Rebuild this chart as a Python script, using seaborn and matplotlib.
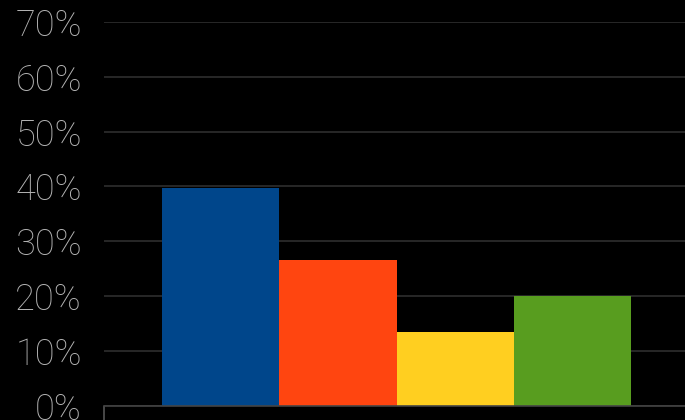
import matplotlib
matplotlib.use("Agg")
import matplotlib.pyplot as plt
import seaborn as sns
import pandas as pd

categories = ["A", "B", "C", "D"]
values = [39.7, 26.5, 13.4, 20.0]
colors = ["#00468b", "#ff4510", "#ffcf20", "#589d1f"]
ytick_values = [0, 10, 20, 30, 40, 50, 60, 70]
ytick_labels = ["0%", "10%", "20%", "30%", "40%", "50%", "60%", "70%"]

df = pd.DataFrame({"category": categories, "value": values})

sns.set_theme(style="dark")
plt.rcParams["font.family"] = ["Roboto", "DejaVu Sans"]

fig = plt.figure(figsize=(6.85, 4.2), dpi=100, facecolor="black")
ax = fig.add_axes([103.5 / 685, 14.3 / 420, (689.6 - 103.5) / 685, (405.7 - 22) / 420])
ax.set_facecolor("black")

sns.barplot(data=df, x="category", y="value", hue="category",
            palette=dict(zip(categories, colors)), width=1.0,
            saturation=1.0, legend=False, ax=ax, zorder=3,
            linewidth=0, edgecolor="none")

ax.set_xlim(-1, 4)
ax.set_ylim(0, 70)
ax.set_yticks(ytick_values)
ax.set_yticklabels(ytick_labels, fontweight="light", fontsize=26, color="#b4b4b4")
ax.set_xticks([-1])
ax.set_xticklabels([""])
ax.set_xlabel("")
ax.set_ylabel("")

ax.grid(axis="y", color="#2e2e2e", linewidth=1.2, zorder=0)
ax.grid(axis="x", visible=False)
ax.set_axisbelow(True)

for s in ["top", "right", "left"]:
    ax.spines[s].set_visible(False)
ax.spines["bottom"].set_color("#444444")
ax.spines["bottom"].set_linewidth(1.2)
ax.spines["bottom"].set_zorder(4)

ax.tick_params(axis="y", length=0, pad=15.5)
ax.tick_params(axis="x", length=10, width=1.2, color="#555555", bottom=True)

fig.savefig("out.png", dpi=100, facecolor="black")
